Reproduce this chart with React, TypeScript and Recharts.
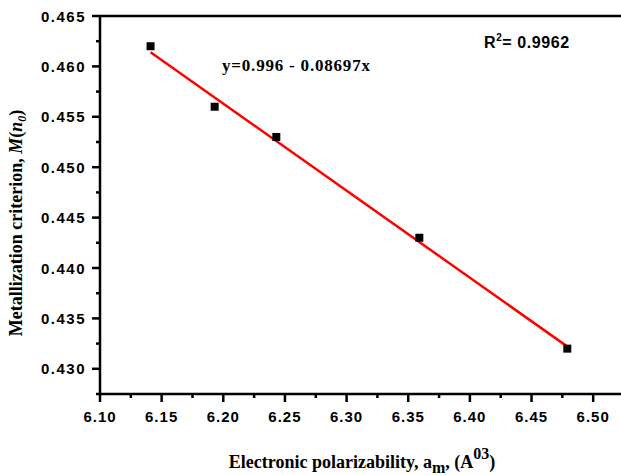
import React from 'react';
import { ComposedChart, Scatter, XAxis, YAxis, ReferenceLine } from 'recharts';

// measured points
const polarizability = [6.141, 6.193, 6.243, 6.359, 6.479];
const criterion = [0.462, 0.456, 0.453, 0.443, 0.432];

// linear fit end points
const fitX = [6.141, 6.478];
const fitY = [0.4614, 0.4323];

const xMajor = [6.1, 6.15, 6.2, 6.25, 6.3, 6.35, 6.4, 6.45, 6.5];
const xMinor = [6.125, 6.175, 6.225, 6.275, 6.325, 6.375, 6.425, 6.475];
const yMajor = [0.43, 0.435, 0.44, 0.445, 0.45, 0.455, 0.46, 0.465];
const yMinor = [0.4275, 0.4325, 0.4375, 0.4425, 0.4475, 0.4525, 0.4575, 0.4625];

const points = polarizability.map((x, i) => ({ x, y: criterion[i] }));
const fitLine = fitX.map((x, i) => ({ x, y: fitY[i] }));

const isMajor = (v: number, list: number[]) => list.some(m => Math.abs(m - v) < 1e-6);

const SANS = 'Arial, "Liberation Sans", sans-serif';
const SERIF = '"Times New Roman", "Liberation Serif", serif';

const XTick = (props: any) => {
  const { x, y, payload } = props;
  const major = isMajor(payload.value, xMajor);
  return (
    <g>
      <line x1={x} y1={y} x2={x} y2={y + (major ? 8 : 4)} stroke="#000" strokeWidth={2.5} />
      {major && (
        <text x={x} y={y + 28} textAnchor="middle" fontFamily={SANS} fontWeight="bold" fontSize={15} letterSpacing={1} fill="#000">
          {payload.value.toFixed(2)}
        </text>
      )}
    </g>
  );
};

const YTick = (props: any) => {
  const { x, y, payload } = props;
  const major = isMajor(payload.value, yMajor);
  return (
    <g>
      <line x1={x} y1={y} x2={x - (major ? 8 : 4)} y2={y} stroke="#000" strokeWidth={2.5} />
      {major && (
        <text x={x - 14} y={y + 5.5} textAnchor="end" fontFamily={SANS} fontWeight="bold" fontSize={15} letterSpacing={1.5} fill="#000">
          {payload.value.toFixed(3)}
        </text>
      )}
    </g>
  );
};

const XTitle = () => (
  <text x={362} y={468} textAnchor="middle" fontFamily={SERIF} fontWeight="bold" fontSize={18} fill="#000">
    Electronic polarizability, a
    <tspan dy={5} fontSize={16}>m</tspan>
    <tspan dy={-5}>, (A</tspan>
    <tspan dy={-9} fontSize={16}>03</tspan>
    <tspan dy={9}>)</tspan>
  </text>
);

const YTitle = () => (
  <text x={22} y={223} transform="rotate(-90, 22, 223)" textAnchor="middle" fontFamily={SERIF} fontWeight="bold" fontSize={18} fill="#000">
    Metallization criterion, <tspan fontStyle="italic">M</tspan>(<tspan fontStyle="italic">n</tspan>
    <tspan dy={4} fontSize={12} fontStyle="italic">0</tspan>
    <tspan dy={-4}>)</tspan>
  </text>
);

const App = () => (
  <div style={{ position: 'absolute', left: 0, top: 0, width: 621, height: 475, overflow: 'hidden', background: '#fff' }}>
    <ComposedChart width={640} height={475} margin={{ top: 16, right: 16, bottom: 0, left: 0 }}>
      <XAxis
        type="number"
        dataKey="x"
        domain={[6.1, 6.525]}
        ticks={[...xMajor, ...xMinor].sort((a, b) => a - b)}
        interval={0}
        height={81}
        tickSize={0}
        tickMargin={0}
        tickLine={false}
        tick={<XTick />}
        axisLine={{ stroke: '#000', strokeWidth: 2.5 }}
        allowDataOverflow
        label={{ content: () => <XTitle /> }}
      />
      <YAxis
        type="number"
        dataKey="y"
        domain={[0.4275, 0.465]}
        ticks={[...yMajor, ...yMinor].sort((a, b) => a - b)}
        interval={0}
        width={100}
        tickSize={0}
        tickMargin={0}
        tickLine={false}
        tick={<YTick />}
        axisLine={{ stroke: '#000', strokeWidth: 2.5 }}
        allowDataOverflow
        label={{ content: () => <YTitle /> }}
      />
      <ReferenceLine y={0.465} stroke="#000" strokeWidth={2.5} />
      <Scatter
        data={fitLine}
        line={{ stroke: '#ff0000', strokeWidth: 2.5 }}
        shape={() => <g />}
        isAnimationActive={false}
      />
      <Scatter data={points} fill="#000" shape="square" size={90} isAnimationActive={false} />
      <text x={222} y={71} fontFamily={SERIF} fontWeight="bold" fontSize={17} letterSpacing={0.8} fill="#000">
        y=0.996 - 0.08697x
      </text>
      <text x={484} y={48} fontFamily={SANS} fontWeight="bold" fontSize={16} letterSpacing={0.6} fill="#000">
        R<tspan dy={-7} fontSize={10}>2</tspan>
        <tspan dy={7}>= 0.9962</tspan>
      </text>
    </ComposedChart>
  </div>
);

export default App;
